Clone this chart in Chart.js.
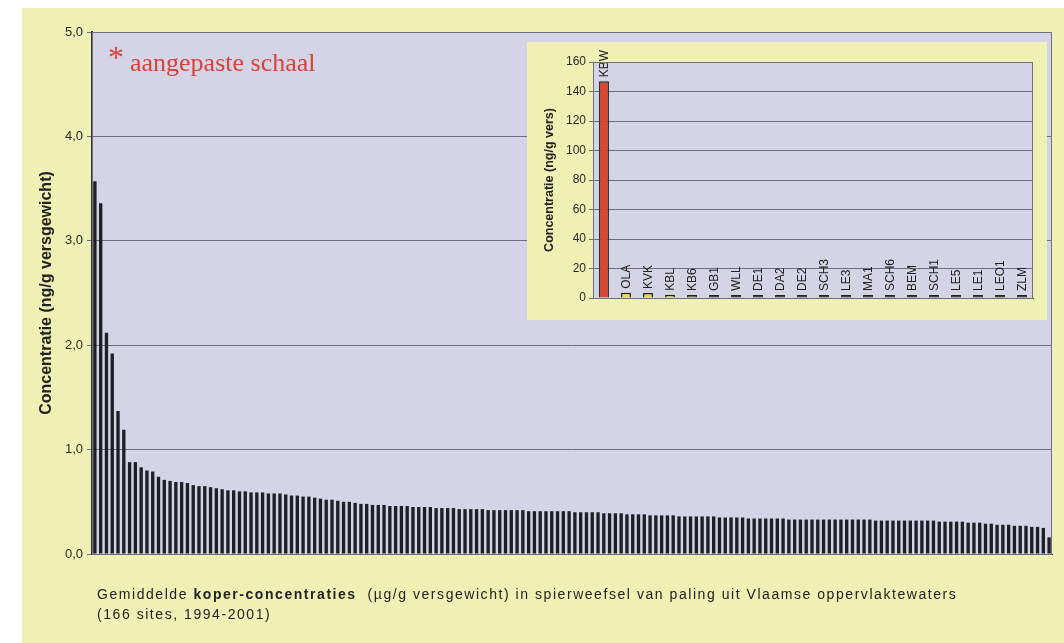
<!DOCTYPE html>
<html>
<head>
<meta charset="utf-8">
<title>Koper in paling</title>
<script src="https://cdn.jsdelivr.net/npm/chart.js@4/dist/chart.umd.min.js"></script>
<style>
  body { margin: 0; background: #fff; }
  #wrap { position: relative; width: 1064px; height: 643px; overflow: hidden; }
  #main { position: absolute; left: 0; top: 0; }
  #inset { position: absolute; left: 527px; top: 42px; }
  .note { position: absolute; left: 108px; top: 42px; color: #d8413a;
          font-family: "Liberation Serif", "Times New Roman", serif; font-size: 26px; white-space: nowrap; }
  .note span { font-size: 32px; position: relative; top: -3px; margin-right: 6px; }
  .caption { position: absolute; left: 97px; top: 584px; color: #222;
             font-family: "Liberation Sans", Arial, sans-serif; font-size: 14px; letter-spacing: 1.55px;
             line-height: 20px; white-space: nowrap; }
</style>
</head>
<body>
<div id="wrap">
  <canvas id="main" width="1064" height="643"></canvas>
  <canvas id="inset" width="520" height="278"></canvas>
  <div class="note"><span>*</span>aangepaste schaal</div>
  <div class="caption">Gemiddelde <b>koper-concentraties</b>&nbsp; (µg/g versgewicht) in spierweefsel van paling uit Vlaamse oppervlaktewaters<br>(166 sites, 1994-2001)</div>
</div>
<script>
"use strict";
// gemiddelde koperconcentratie per site, gesorteerd (zonder KBW)
const siteValues = [
  3.57, 3.36, 2.12, 1.92, 1.37, 1.19, 0.88, 0.88, 0.83, 0.80, 0.79, 0.74, 0.71, 0.70, 0.69, 0.69, 0.68, 0.66, 0.65, 0.65, 0.64, 0.63, 0.62, 0.61, 0.61,
  0.60, 0.60, 0.59, 0.59, 0.59, 0.58, 0.58, 0.58,
  0.57, 0.56, 0.56, 0.55, 0.55, 0.54, 0.53, 0.52,
  0.52, 0.51, 0.50, 0.50, 0.49, 0.48, 0.48, 0.47,
  0.47, 0.47, 0.46, 0.46, 0.46, 0.46, 0.45, 0.45, 0.45,
  0.45, 0.44, 0.44, 0.44, 0.44, 0.43, 0.43, 0.43,
  0.43, 0.43, 0.42, 0.42, 0.42, 0.42, 0.42, 0.42, 0.42,
  0.41, 0.41, 0.41, 0.41, 0.41, 0.41, 0.41, 0.41,
  0.40, 0.40, 0.40, 0.40, 0.40, 0.39, 0.39, 0.39, 0.39,
  0.38, 0.38, 0.38, 0.38, 0.37, 0.37, 0.37,
  0.37, 0.37, 0.36, 0.36, 0.36, 0.36, 0.36, 0.36, 0.36,
  0.35, 0.35, 0.35, 0.35, 0.35, 0.34, 0.34, 0.34,
  0.34, 0.34, 0.34, 0.34, 0.33, 0.33, 0.33, 0.33, 0.33,
  0.33, 0.33, 0.33, 0.33, 0.33, 0.33, 0.33, 0.33, 0.33,
  0.33, 0.32, 0.32, 0.32, 0.32, 0.32, 0.32,
  0.32, 0.32, 0.32, 0.32, 0.32, 0.31, 0.31, 0.31,
  0.31, 0.31, 0.30, 0.30, 0.30,
  0.29, 0.29, 0.28, 0.28,
  0.28, 0.27, 0.27,
  0.27, 0.26, 0.26, 0.25, 0.16
];
const siteLabels = siteValues.map((v, i) => String(i + 1));
const mainTicks = [0, 1, 2, 3, 4, 5];

// inzet: de hoogste sites op eigen schaal
const insetSites = ["KBW", "OLA", "KVK", "KBL", "KB6", "GB1", "WLL", "DE1", "DA2", "DE2",
                    "SCH3", "LE3", "MA1", "SCH6", "BEM", "SCH1", "LE5", "LE1", "LEO1", "ZLM"];
const insetValues = [147, 3.57, 3.36, 2.12, 1.92, 1.37, 1.19, 0.88, 0.88, 0.83,
                     0.80, 0.79, 0.74, 0.71, 0.70, 0.69, 0.69, 0.68, 0.66, 0.65];
const insetColors = ["#e2452e", "#e6df4a", "#e6df4a", "#cfc94a", "#5c5c3c", "#1e1e1e", "#1e1e1e", "#1e1e1e", "#1e1e1e", "#1e1e1e",
                     "#1e1e1e", "#1e1e1e", "#1e1e1e", "#1e1e1e", "#1e1e1e", "#1e1e1e", "#1e1e1e", "#1e1e1e", "#1e1e1e", "#1e1e1e"];

const FONT = "'Liberation Sans', Arial, sans-serif";
const YELLOW = "#eef0b4";
const LAVENDER = "#d5d4e6";
const GRID = "#6e6e80";

function fmt(v) { return v.toFixed(1).replace(".", ","); }

// achtergrond: geel kader en lila plotvlak
const backdrop = {
  id: "backdrop",
  beforeDraw(chart, args, opts) {
    const ctx = chart.ctx, a = chart.chartArea;
    ctx.save();
    ctx.fillStyle = "#fff";
    ctx.fillRect(0, 0, chart.width, chart.height);
    ctx.fillStyle = YELLOW;
    ctx.fillRect(opts.x, opts.y, chart.width - opts.x, chart.height - opts.y);
    ctx.fillStyle = LAVENDER;
    ctx.fillRect(a.left, a.top, a.right - a.left, a.bottom - a.top);
    ctx.restore();
  },
  afterDraw(chart) {
    const ctx = chart.ctx, a = chart.chartArea;
    ctx.save();
    ctx.strokeStyle = "#6f6f80";
    ctx.lineWidth = 1;
    ctx.strokeRect(a.left + 0.5, a.top + 0.5, a.right - a.left - 1, a.bottom - a.top);
    ctx.restore();
  }
};

// sitecodes verticaal boven de staven van de inzet
const barNames = {
  id: "barNames",
  afterDatasetsDraw(chart) {
    const ctx = chart.ctx;
    const meta = chart.getDatasetMeta(0);
    ctx.save();
    ctx.fillStyle = "#222";
    ctx.font = "12px " + FONT;
    ctx.textAlign = "left";
    ctx.textBaseline = "middle";
    meta.data.forEach((bar, i) => {
      ctx.save();
      ctx.translate(bar.x + 1, bar.y - 4);
      ctx.rotate(-Math.PI / 2);
      ctx.fillText(chart.data.labels[i], 0, 0);
      ctx.restore();
    });
    ctx.restore();
  }
};

new Chart(document.getElementById("main"), {
  type: "bar",
  data: {
    labels: siteLabels,
    datasets: [{
      data: siteValues,
      backgroundColor: "#1f1f26",
      borderWidth: 0,
      barPercentage: 0.58,
      categoryPercentage: 1
    }]
  },
  options: {
    responsive: false,
    animation: false,
    layout: { padding: { left: 22, right: 12, top: 32, bottom: 89 } },
    plugins: {
      legend: { display: false },
      tooltip: { enabled: false },
      backdrop: { x: 22, y: 8 }
    },
    scales: {
      x: {
        grid: { display: false },
        ticks: { display: false },
        border: { color: "#333", width: 1 },
        afterFit(s) { s.height = 0; }
      },
      y: {
        min: 0,
        max: 5,
        afterBuildTicks(s) { s.ticks = mainTicks.map(v => ({ value: v })); },
        ticks: { callback: v => fmt(v), color: "#2a2a2a", padding: 4, font: { family: FONT, size: 13 } },
        grid: { color: GRID, tickLength: 5 },
        border: { color: "#333", width: 2 },
        title: {
          display: true,
          text: "Concentratie (ng/g versgewicht)",
          color: "#222",
          font: { family: FONT, size: 16, weight: "bold" },
          padding: { top: 15, bottom: 0 }
        },
        afterFit(s) { s.width = 70; }
      }
    }
  },
  plugins: [backdrop]
});

new Chart(document.getElementById("inset"), {
  type: "bar",
  data: {
    labels: insetSites,
    datasets: [{
      data: insetValues,
      backgroundColor: insetColors,
      borderColor: "#222",
      borderWidth: 1.5,
      barPercentage: 0.45,
      categoryPercentage: 1,
      minBarLength: 3
    }]
  },
  options: {
    responsive: false,
    animation: false,
    layout: { padding: { left: 0, right: 14, top: 20, bottom: 22 } },
    plugins: {
      legend: { display: false },
      tooltip: { enabled: false },
      backdrop: { x: 0, y: 0 }
    },
    scales: {
      x: {
        grid: { display: false },
        ticks: { display: false },
        border: { color: "#333", width: 1 },
        afterFit(s) { s.height = 0; }
      },
      y: {
        min: 0,
        max: 160,
        ticks: { stepSize: 20, color: "#2a2a2a", padding: 3, font: { family: FONT, size: 12 } },
        grid: { color: GRID, tickLength: 4 },
        border: { color: "#333", width: 1 },
        title: {
          display: true,
          text: "Concentratie (ng/g vers)",
          color: "#222",
          font: { family: FONT, size: 12.5, weight: "bold" },
          padding: { top: 15, bottom: 0 }
        },
        afterFit(s) { s.width = 66; }
      }
    }
  },
  plugins: [backdrop, barNames]
});
</script>
</body>
</html>
